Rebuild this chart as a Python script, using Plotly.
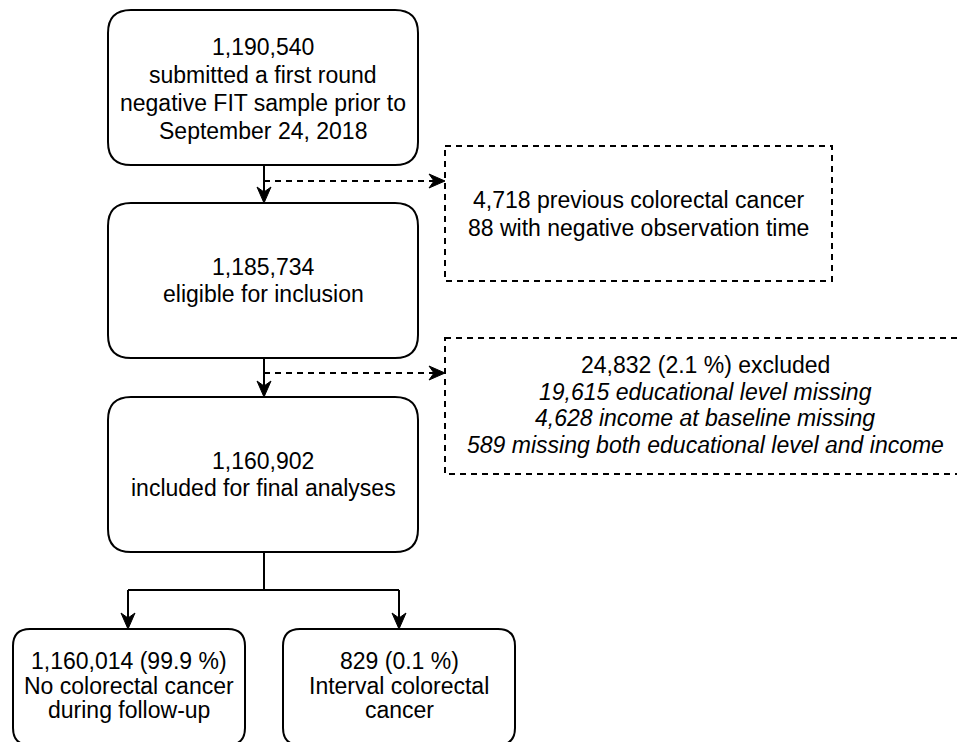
import plotly.graph_objects as go

# box texts (one entry per line)
top_lines = ["1,190,540", "submitted a first round", "negative FIT sample prior to", "September 24, 2018"]
eligible_lines = ["1,185,734", "eligible for inclusion"]
included_lines = ["1,160,902", "included for final analyses"]
excl1_lines = ["4,718 previous colorectal cancer", "88 with negative observation time"]
excl2_lines = ["24,832 (2.1 %) excluded", "<i>19,615 educational level missing</i>",
               "<i>4,628 income at baseline missing</i>",
               "<i>589 missing both educational level and income</i>"]
nocrc_lines = ["1,160,014 (99.9 %)", "No colorectal cancer", "during follow-up"]
crc_lines = ["829 (0.1 %)", "Interval colorectal", "cancer"]

W, H = 957, 742
FONT = "Liberation Sans, Arial, sans-serif"
FS = 23

fig = go.Figure()
shapes = []
annotations = []


def rrect(x0, y0, x1, y1, r, dash="solid"):
    p = (f"M {x0+r},{y0} L {x1-r},{y0} Q {x1},{y0} {x1},{y0+r} "
         f"L {x1},{y1-r} Q {x1},{y1} {x1-r},{y1} L {x0+r},{y1} "
         f"Q {x0},{y1} {x0},{y1-r} L {x0},{y0+r} Q {x0},{y0} {x0+r},{y0} Z")
    shapes.append(dict(type="path", path=p, xref="x", yref="y",
                       line=dict(color="black", width=2, dash=dash),
                       fillcolor="white", layer="below"))


def rect(x0, y0, x1, y1, dash):
    shapes.append(dict(type="rect", x0=x0, y0=y0, x1=x1, y1=y1, xref="x", yref="y",
                       line=dict(color="black", width=2, dash=dash),
                       fillcolor="rgba(0,0,0,0)", layer="below"))


def seg(x0, y0, x1, y1, dash="solid"):
    shapes.append(dict(type="line", x0=x0, y0=y0, x1=x1, y1=y1, xref="x", yref="y",
                       line=dict(color="black", width=2, dash=dash)))


def head(tx, ty, dx, dy, L=16, w=7, notch=5):
    nx, ny = -dy, dx
    bx, by = tx - L * dx, ty - L * dy
    mx, my = tx - (L - notch) * dx, ty - (L - notch) * dy
    p = (f"M {tx},{ty} L {bx + w*nx},{by + w*ny} L {mx},{my} "
         f"L {bx - w*nx},{by - w*ny} Z")
    shapes.append(dict(type="path", path=p, xref="x", yref="y",
                       line=dict(color="black", width=1), fillcolor="black"))


def text(lines, cx, ys):
    for t, y in zip(lines, ys):
        annotations.append(dict(x=cx, y=y, xref="x", yref="y", text=t, showarrow=False,
                                xanchor="center", yanchor="middle",
                                font=dict(family=FONT, size=FS, color="black")))


# main boxes
rrect(108, 10, 418, 165, 23)
rrect(108, 203, 418, 358, 23)
rrect(108, 397, 418, 552, 23)
rrect(13, 629, 245, 745, 17)
rrect(283, 629, 515, 745, 17)

# exclusion boxes
rect(445, 146, 832, 281, "6px,5px")
rect(445, 338, 965, 474, "6px,5px")

# connectors
seg(264, 165, 264, 192)
head(264, 203, 0, 1)
seg(264, 181, 434, 181, "6px,5px")
head(445, 181, 1, 0)

seg(264, 358, 264, 386)
head(264, 397, 0, 1)
seg(264, 373, 434, 373, "6px,5px")
head(445, 373, 1, 0)

seg(264, 552, 264, 590)
seg(128, 590, 399, 590)
seg(128, 590, 128, 618)
seg(399, 590, 399, 618)
head(128, 629, 0, 1)
head(399, 629, 0, 1)

text(top_lines, 263, [47, 75, 103, 131])
text(eligible_lines, 263, [267, 294])
text(included_lines, 263, [461, 488])
text(excl1_lines, 638, [200, 228])
text(excl2_lines, 705, [365, 391.5, 418, 444.5])
text(nocrc_lines, 129, [661, 686, 710])
text(crc_lines, 399, [661, 686, 710])

fig.update_layout(
    width=W, height=H,
    margin=dict(l=0, r=0, t=0, b=0),
    plot_bgcolor="white", paper_bgcolor="white",
    shapes=shapes, annotations=annotations,
    showlegend=False,
)
fig.update_xaxes(range=[0, W], visible=False, fixedrange=True)
fig.update_yaxes(range=[H, 0], visible=False, fixedrange=True)

fig.write_html("out.html", config={"displayModeBar": False},
               post_script="document.body.style.margin='0';document.body.style.overflow='hidden';")
